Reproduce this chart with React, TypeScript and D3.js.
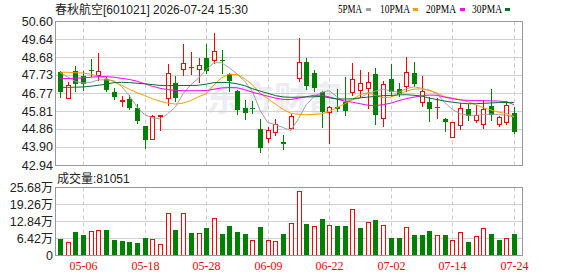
import React from "react";
import * as d3 from "d3";

const W = 578;
const H = 276;

const tickLabels = ["05-06", "05-18", "05-28", "06-09", "06-22", "07-02", "07-14", "07-24"];
const tickIndex = [3, 11, 19, 27, 35, 43, 51, 59];
const priceTicks = [50.6, 49.64, 48.68, 47.73, 46.77, 45.81, 44.86, 43.9, 42.94];
const volTicks = [0, 6.42, 12.84, 19.26, 25.68];

const openP = [47.90,46.49,47.95,47.69,48.00,47.72,47.53,46.84,46.35,46.47,
45.99,44.99,44.30,45.53,46.50,47.32,48.04,48.13,48.04,48.62,
48.53,48.53,47.78,46.88,45.99,45.99,44.88,44.37,44.70,44.17,
44.92,47.55,48.43,47.83,46.80,45.76,46.03,46.31,46.84,46.93,
47.03,47.79,45.45,47.51,46.98,47.16,47.85,46.31,46.29,46.01,
45.41,44.44,45.07,45.92,45.34,45.13,46.08,45.13,45.23,45.71];
const highP = [47.93,47.37,48.22,47.92,48.57,48.91,47.62,47.05,46.63,46.68,
46.20,45.00,45.59,45.60,48.32,47.67,49.38,48.96,48.62,49.38,
49.95,49.06,47.83,46.95,46.42,46.33,45.41,44.97,45.41,44.51,
45.66,49.72,48.62,48.00,46.88,46.10,47.00,47.62,48.38,48.00,
47.90,48.09,47.42,48.32,47.30,48.68,48.43,47.69,46.54,46.50,
45.43,45.25,46.24,46.19,46.15,46.42,46.98,45.53,46.36,46.03];
const lowP = [46.56,46.49,46.86,46.95,47.69,47.48,46.86,46.43,46.06,45.92,
45.16,43.84,44.30,44.79,46.13,46.33,47.74,47.79,47.35,47.83,
48.36,47.83,46.86,45.67,45.39,45.71,43.63,44.16,44.53,43.77,
44.83,47.39,46.98,46.86,44.97,44.12,45.80,45.59,46.68,46.56,
45.97,45.13,45.00,46.63,46.63,46.86,47.16,46.08,45.27,45.43,
44.74,44.44,44.85,45.32,45.22,44.93,45.36,45.04,45.13,44.62];
const closeP = [46.80,47.18,47.25,47.26,47.95,47.93,46.91,46.56,46.42,45.96,
45.29,44.26,45.53,45.60,47.83,46.49,48.36,48.16,48.27,47.95,
48.99,48.45,47.39,45.85,45.69,45.96,43.84,44.81,45.13,44.05,
45.55,48.41,47.12,47.03,45.76,46.03,45.92,45.80,47.51,47.32,
47.37,45.59,47.25,46.82,46.72,47.88,47.23,46.88,45.90,46.05,
45.22,45.23,45.97,45.55,45.59,45.92,45.60,45.50,46.13,44.70];

// volume in 万手
const volume = [6.0,4.8,8.6,7.5,9.0,9.3,9.4,5.6,5.3,4.9,
4.5,6.4,6.0,4.0,15.7,9.4,16.0,8.3,8.3,10.2,
13.8,7.9,10.9,8.6,7.9,5.6,10.5,5.5,5.3,7.9,
12.0,24.1,11.7,10.9,13.5,11.5,10.9,10.9,17.5,10.2,
12.3,13.2,11.2,6.4,6.4,10.4,7.5,7.5,9.0,7.4,
7.5,5.5,8.5,4.9,7.0,10.2,7.9,5.6,6.4,8.1];
// 1 = up vs previous close (red), 0 = down (green)
const volUp = [0,1,0,0,1,1,0,0,0,0,
0,0,1,1,1,0,1,0,1,0,
1,0,0,0,0,1,0,1,1,0,
1,1,0,1,0,1,0,0,1,0,
1,0,1,0,0,1,0,0,0,1,
0,1,1,0,1,1,0,0,1,0];

const ma5 = [47.86,47.62,47.38,47.30,47.33,47.47,47.47,47.42,47.12,46.63,
46.04,45.62,45.45,45.39,45.66,46.03,46.73,47.21,47.56,48.00,
48.38,48.38,48.11,47.79,47.40,46.85,45.85,45.20,45.09,44.93,
44.77,45.41,46.15,46.57,46.81,46.89,46.57,46.31,46.42,46.51,
46.76,46.87,46.98,46.86,46.81,47.00,47.10,47.02,46.91,46.73,
46.26,45.89,45.67,45.59,45.58,45.62,45.65,45.62,45.59,45.49];
const ma10 = [47.88,47.87,47.85,47.83,47.77,47.66,47.55,47.37,47.18,46.97,
46.79,46.63,46.47,46.33,46.23,46.18,46.23,46.37,46.57,46.73,
47.20,47.58,47.77,47.75,47.53,47.21,46.76,46.47,46.18,45.89,
45.70,45.63,45.61,45.63,45.66,45.79,45.99,46.20,46.42,46.68,
46.79,46.63,46.52,46.55,46.71,46.87,46.98,46.98,46.92,46.76,
46.57,46.50,46.42,46.31,46.15,45.99,45.87,45.75,45.67,45.52];
const ma20 = [47.53,47.54,47.56,47.57,47.61,47.64,47.64,47.61,47.55,47.49,
47.40,47.26,47.13,47.02,46.95,46.91,46.89,46.89,46.89,46.90,
46.97,47.04,47.06,47.05,46.95,46.81,46.71,46.60,46.50,46.43,
46.42,46.50,46.57,46.65,46.65,46.56,46.44,46.34,46.28,46.20,
46.12,46.10,46.15,46.23,46.36,46.47,46.55,46.62,46.66,46.65,
46.55,46.47,46.40,46.38,46.37,46.36,46.35,46.34,46.31,46.15];
const ma30 = [47.07,47.07,47.08,47.09,47.13,47.18,47.24,47.32,47.34,47.32,
47.29,47.26,47.22,47.17,47.16,47.17,47.17,47.17,47.18,47.24,
47.32,47.33,47.32,47.26,47.16,47.00,46.87,46.76,46.63,46.56,
46.54,46.55,46.56,46.57,46.59,46.52,46.45,46.45,46.46,46.51,
46.55,46.59,46.63,46.64,46.67,46.68,46.65,46.60,46.50,46.42,
46.34,46.28,46.23,46.20,46.20,46.22,46.24,46.26,46.27,46.27];

const maSeries = [ma5, ma10, ma20, ma30];
const legendLabels = ["5PMA", "10PMA", "20PMA", "30PMA"];
const maColors = ["#a0a0a0", "#f0a000", "#ff00ff", "#006f30"];
const legendTextX = [338, 380, 426, 472];
const legendTextW = [24, 30, 30, 30];
const legendSwatchX = [366, 413, 460, 505];

const RED = "#ff0000";
const GREEN = "#008000";

const PL = 55.5, PR = 522.5;
const MT = 21, MB = 165;
const VT = 187, VB = 255;

export default function App() {
  const x = d3.scaleLinear().domain([0, 59]).range([60, 514]);
  const col = (i: number) => Math.round(x(i));
  const y = d3.scaleLinear().domain([42.94, 50.6]).range([MB, MT]);
  const v = d3.scaleLinear().domain([0, 25.68]).range([VB, VT]);

  const line = d3
    .line<number>()
    .x((_, i) => x(i))
    .y((d) => y(d));

  const sans = "Liberation Sans, Arial, sans-serif";
  const cjk = "Noto Sans CJK SC, sans-serif";
  const serif = "Liberation Serif, Times New Roman, serif";

  return (
    <svg
      width={W}
      height={H}
      style={{ position: "absolute", left: 0, top: 0, background: "#fff" }}
    >
      <rect x={0} y={0} width={W} height={H} fill="#fff" />
      {/* title */}
      <text x={55} y={14} fontSize={12} fill="#222">
        <tspan fontFamily={cjk}>春秋航空</tspan>
        <tspan fontFamily={sans}>[601021] 2026-07-24 15:30</tspan>
      </text>
      {/* legend */}
      {legendLabels.map((l, k) => (
        <g key={l}>
          <text
            x={legendTextX[k]}
            y={13}
            fontSize={11.5}
            fontFamily={serif}
            fill="#000"
            textLength={legendTextW[k]}
            lengthAdjust="spacingAndGlyphs"
          >
            {l}
          </text>
          <rect x={legendSwatchX[k]} y={8} width={5} height={3} fill={maColors[k]} />
        </g>
      ))}

      {/* watermark */}
      <text
        x={206}
        y={111}
        fontSize={34}
        fontWeight={700}
        fontFamily={cjk}
        fill="#d8dce6"
        opacity={0.5}
      >
        东方财富
      </text>

      {/* main grid */}
      {priceTicks.map((t) => (
        <line
          key={"hg" + t}
          x1={PL}
          x2={PR}
          y1={Math.round(y(t)) + 0.5}
          y2={Math.round(y(t)) + 0.5}
          stroke="#d0d0d0"
        />
      ))}
      {volTicks.map((t) => (
        <line
          key={"vg" + t}
          x1={PL}
          x2={PR}
          y1={Math.round(v(t)) + 0.5}
          y2={Math.round(v(t)) + 0.5}
          stroke="#d0d0d0"
        />
      ))}
      {tickIndex.map((ti) => (
        <g key={"vd" + ti}>
          <line
            x1={col(ti) + 0.5}
            x2={col(ti) + 0.5}
            y1={MT + 0.5}
            y2={MB + 0.5}
            stroke="#cccccc"
            strokeDasharray="4,3"
          />
          <line
            x1={col(ti) + 0.5}
            x2={col(ti) + 0.5}
            y1={VT + 0.5}
            y2={VB + 0.5}
            stroke="#cccccc"
            strokeDasharray="4,3"
          />
        </g>
      ))}

      {/* candles */}
      {openP.map((o, i) => {
        const c = closeP[i];
        const up = c >= o;
        const cc = col(i);
        const color = up ? RED : GREEN;
        const yo = Math.round(y(o));
        const yc = Math.round(y(c));
        const wick = (
          <line
            x1={cc + 0.5}
            x2={cc + 0.5}
            y1={Math.round(y(highP[i]))}
            y2={Math.round(y(lowP[i])) + 1}
            stroke={color}
          />
        );
        if (up) {
          const top = yc, bot = yo;
          return (
            <g key={"k" + i}>
              {wick}
              {bot - top >= 2 ? (
                <rect x={cc - 1.5} y={top + 0.5} width={4} height={bot - top} fill="#fff" stroke={RED} />
              ) : (
                <rect x={cc - 2} y={top} width={5} height={Math.max(1, bot - top + 1)} fill={RED} />
              )}
            </g>
          );
        }
        return (
          <g key={"k" + i}>
            {wick}
            <rect x={cc - 2} y={yo} width={5} height={Math.max(1, yc - yo)} fill={GREEN} />
          </g>
        );
      })}

      {/* moving averages */}
      {maSeries.map((s, k) => (
        <path key={"ma" + k} d={line(s) || ""} fill="none" stroke={maColors[k]} strokeWidth={1} />
      ))}

      {/* volume bars */}
      {volume.map((vv, i) => {
        const cc = col(i);
        const top = Math.round(v(vv));
        if (volUp[i]) {
          return (
            <rect key={"v" + i} x={cc - 1.5} y={top + 0.5} width={4} height={VB - top} fill="#fff" stroke={RED} />
          );
        }
        return <rect key={"v" + i} x={cc - 2} y={top} width={5} height={VB - top + 1} fill={GREEN} />;
      })}

      {/* borders */}
      <rect x={PL} y={MT + 0.5} width={PR - PL} height={MB - MT} fill="none" stroke="#999" />
      <rect x={PL} y={VT + 0.5} width={PR - PL} height={VB - VT} fill="none" stroke="#999" />

      {/* price axis labels */}
      {priceTicks.map((t) => (
        <text
          key={"pl" + t}
          x={53}
          y={y(t)}
          dy="0.36em"
          textAnchor="end"
          fontSize={12.5}
          fontFamily={sans}
          fill="#222"
        >
          {t.toFixed(2)}
        </text>
      ))}

      {/* volume label */}
      <text x={57} y={183} fontSize={12} fill="#222">
        <tspan fontFamily={cjk}>成交量</tspan>
        <tspan fontFamily={sans}>:81051</tspan>
      </text>

      {/* volume axis labels */}
      {volTicks.map((t) => (
        <text
          key={"vl" + t}
          x={53}
          y={v(t)}
          dy="0.36em"
          textAnchor="end"
          fontSize={12.5}
          fill="#222"
        >
          <tspan fontFamily={sans}>{t === 0 ? "0" : t.toFixed(2)}</tspan>
          {t === 0 ? null : <tspan fontFamily={cjk} fontSize={12}>万</tspan>}
        </text>
      ))}

      {/* date labels */}
      {tickLabels.map((l, k) => (
        <text
          key={"xl" + l}
          x={col(tickIndex[k]) + 0.5}
          y={270}
          textAnchor="middle"
          fontSize={12}
          fontFamily={serif}
          fill={RED}
        >
          {l}
        </text>
      ))}
    </svg>
  );
}
